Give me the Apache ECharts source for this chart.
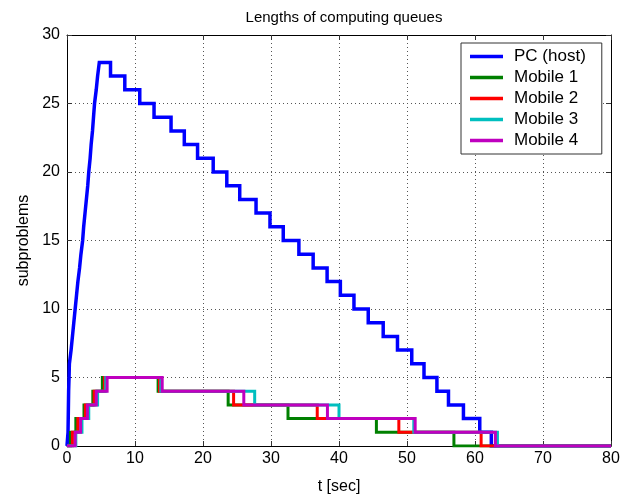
<!DOCTYPE html>
<html>
<head>
<meta charset="utf-8">
<script src="https://cdn.jsdelivr.net/npm/echarts@6/dist/echarts.min.js"></script>
<style>
  html, body { margin: 0; padding: 0; background: #fff; }
  #chart { width: 627px; height: 500px; }
</style>
</head>
<body>
<div id="chart"></div>
<script>
// Queue lengths: each list gives the times (sec) at which a queue changes,
// paired with the level it holds from that time on.
const seriesNames = ['PC (host)', 'Mobile 1', 'Mobile 2', 'Mobile 3', 'Mobile 4'];

const pcTimes = [0, 0.15, 0.18, 0.21, 0.24, 0.3, 0.35, 0.6, 0.8, 1.0, 1.2, 1.4, 1.6, 1.85, 2.05,
  2.3, 2.45, 2.65, 2.85, 3.05, 3.2, 3.4, 3.55, 3.75, 3.9, 4.05, 4.3, 4.5, 4.75,
  6.4, 8.5, 10.7, 12.8, 15.3, 17.25, 19.2, 21.5, 23.5, 25.4, 27.8, 29.85, 31.8, 34.1,
  36.2, 38.25, 40.2, 42.2, 44.3, 46.5, 48.6, 50.7, 52.5, 54.4, 56.1, 58.3, 60.7, 62.4];
const pcLevels = [0, 1, 2, 3, 4, 5, 6, 7, 8, 9, 10, 11, 12, 13, 14,
  15, 16, 17, 18, 19, 20, 21, 22, 23, 24, 25, 26, 27, 28,
  27, 26, 25, 24, 23, 22, 21, 20, 19, 18, 17, 16, 15, 14,
  13, 12, 11, 10, 9, 8, 7, 6, 5, 4, 3, 2, 1, 0];

const mobileLevels = [0, 1, 2, 3, 4, 5, 4, 3, 2, 1, 0];
const mobile1Times = [0, 0.5, 1.3, 2.5, 3.8, 5.2, 13.4, 23.7, 32.5, 45.5, 56.9];
const mobile2Times = [0, 0.8, 1.6, 2.7, 4.0, 5.5, 13.6, 24.5, 36.8, 48.8, 60.9];
const mobile3Times = [0, 1.3, 2.2, 3.2, 4.5, 5.7, 13.8, 27.6, 40.0, 51.0, 63.3];
const mobile4Times = [0, 1.2, 2.0, 3.0, 4.3, 5.9, 14.0, 26.0, 38.3, 51.2, 63.0];

const endTime = 80;
const xTicks = [0, 10, 20, 30, 40, 50, 60, 70, 80];
const yTicks = [0, 5, 10, 15, 20, 25, 30];

const colors = ['#0000ff', '#008000', '#ff0000', '#00bfbf', '#bf00bf'];
const widths = [3.5, 3, 3, 3, 3];

function toSteps(times, levels) {
  const pts = times.map((t, i) => [t, levels[i]]);
  pts.push([endTime, levels[levels.length - 1]]);
  return pts;
}

const seriesData = [
  toSteps(pcTimes, pcLevels),
  toSteps(mobile1Times, mobileLevels),
  toSteps(mobile2Times, mobileLevels),
  toSteps(mobile3Times, mobileLevels),
  toSteps(mobile4Times, mobileLevels)
];

const font = 'Liberation Sans, Arial, sans-serif';
const chart = echarts.init(document.getElementById('chart'), null, { renderer: 'canvas' });

const gridLine = { show: true, lineStyle: { color: '#555', type: [1, 3], width: 1 } };
const boxLine = { show: true, onZero: false, lineStyle: { color: '#000', width: 1 } };
const innerTick = { show: true, inside: true, length: 5, lineStyle: { color: '#333' } };

chart.setOption({
  animation: false,
  backgroundColor: '#fff',
  title: {
    text: 'Lengths of computing queues',
    left: 339, top: 5, textAlign: 'center',
    textStyle: { fontFamily: font, fontSize: 15, fontWeight: 'normal', color: '#000' }
  },
  legend: {
    data: seriesNames,
    orient: 'vertical',
    left: 461, top: 43,
    padding: [5, 16, 5, 9],
    itemGap: 4,
    itemWidth: 33, itemHeight: 3.5,
    icon: 'rect',
    backgroundColor: '#fff',
    borderColor: '#333', borderWidth: 1, borderRadius: 0,
    textStyle: { fontFamily: font, fontSize: 17, color: '#000', lineHeight: 17, padding: [0, 0, 0, 6] }
  },
  grid: { left: 67, top: 35, right: 16, bottom: 53, containLabel: false },
  xAxis: [{
    type: 'value', min: 0, max: 80, interval: 10,
    name: 't [sec]', nameLocation: 'middle', nameGap: 33,
    nameTextStyle: { fontFamily: font, fontSize: 16, color: '#000' },
    axisLine: boxLine, axisTick: innerTick,
    axisLabel: { fontFamily: font, fontSize: 16, color: '#000', margin: 5,
      formatter: v => xTicks.includes(v) ? String(v) : '' },
    splitLine: gridLine
  }, {
    type: 'value', min: 0, max: 80, interval: 10, position: 'top',
    axisLine: boxLine, axisTick: innerTick, axisLabel: { show: false }, splitLine: { show: false }
  }],
  yAxis: [{
    type: 'value', min: 0, max: 30, interval: 5,
    name: 'subproblems', nameLocation: 'middle', nameGap: 30,
    nameTextStyle: { fontFamily: font, fontSize: 16, color: '#000' },
    axisLine: boxLine, axisTick: innerTick,
    axisLabel: { fontFamily: font, fontSize: 16, color: '#000', margin: 7,
      formatter: v => yTicks.includes(v) ? String(v) : '' },
    splitLine: gridLine
  }, {
    type: 'value', min: 0, max: 30, interval: 5, position: 'right',
    axisLine: boxLine, axisTick: innerTick, axisLabel: { show: false }, splitLine: { show: false }
  }],
  series: seriesNames.map((name, i) => ({
    name: name,
    type: 'line',
    step: 'end',
    xAxisIndex: 0, yAxisIndex: 0,
    showSymbol: false,
    symbol: 'none',
    data: seriesData[i],
    lineStyle: { color: colors[i], width: widths[i], join: 'miter' },
    itemStyle: { color: colors[i] },
    z: 2 + i
  }))
});
</script>
</body>
</html>
